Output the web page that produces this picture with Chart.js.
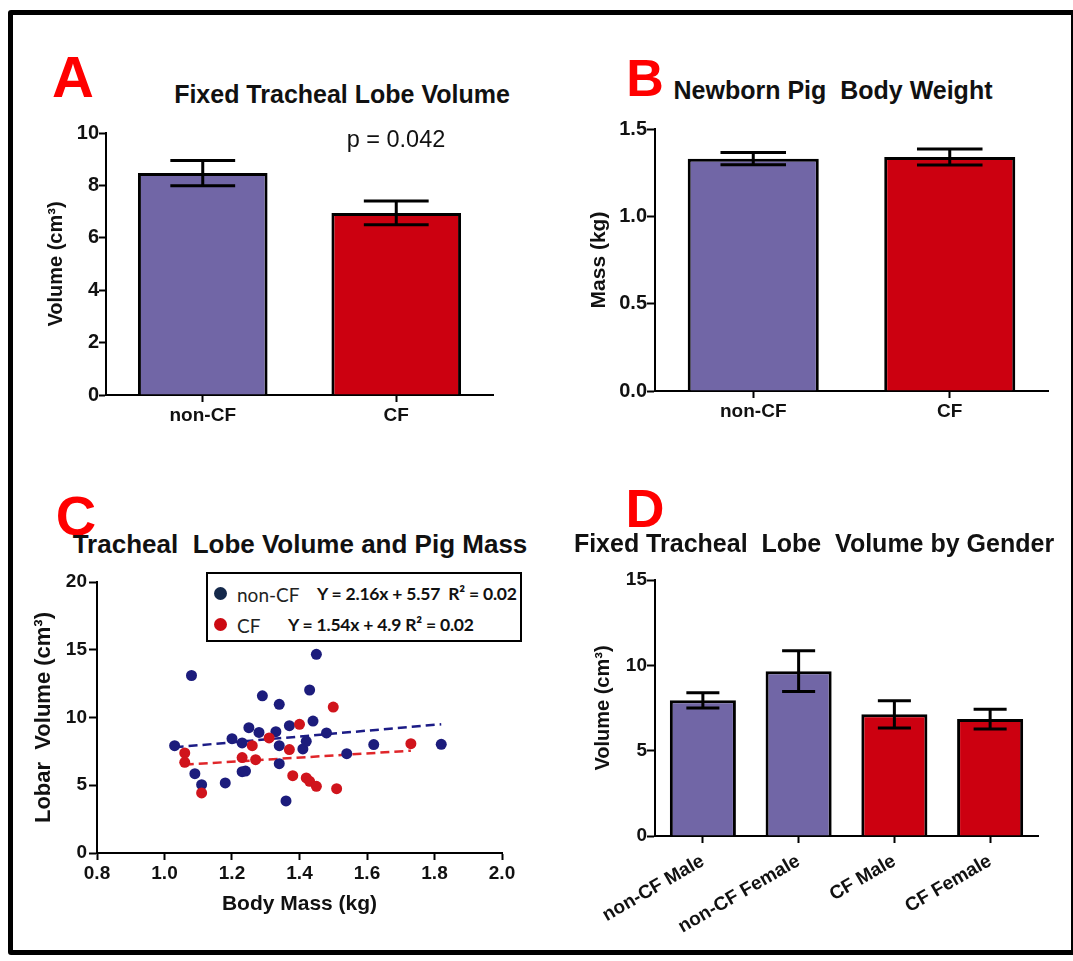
<!DOCTYPE html>
<html>
<head>
<meta charset="utf-8">
<script src="https://cdn.jsdelivr.net/npm/chart.js@4.4.1/dist/chart.umd.min.js"></script>
<style>
  body { margin: 0; background: #fff; font-family: 'Liberation Sans', Arial, sans-serif; }
  #fig { position: relative; width: 1073px; height: 961px; overflow: hidden; }
  #frame { position: absolute; left: 8px; top: 10px; width: 1068px; height: 945px; box-sizing: border-box; border: 5px solid #000; border-radius: 3px; }
  canvas { position: absolute; }
  .t { position: absolute; white-space: pre; line-height: 1; transform: translate(-50%, -50%); color: #111; }
  .letter { color: #ff0000; font-weight: bold; }
  .ttl { font-weight: bold; }
  #legend { position: absolute; left: 206px; top: 572px; width: 316px; height: 70px; box-sizing: border-box; border: 2px solid #000; background: #fff; font-family: Lato, 'Open Sans', sans-serif; }
  #legend .dot { position: absolute; width: 13px; height: 13px; border-radius: 50%; }
  #legend .name { position: absolute; font-size: 19px; color: #222; }
  #legend .eq { position: absolute; font-size: 17.5px; font-weight: bold; color: #111; letter-spacing: -0.2px; white-space: pre; }
</style>
</head>
<body>
<div id="fig">
  <div id="frame"></div>

  <canvas id="chartA" width="530" height="335" style="left:20px;top:115px"></canvas>
  <canvas id="chartB" width="510" height="335" style="left:560px;top:115px"></canvas>
  <canvas id="chartC" width="530" height="380" style="left:20px;top:560px"></canvas>
  <canvas id="chartD" width="510" height="395" style="left:560px;top:555px"></canvas>

  <div class="t letter" style="left:73px;top:77px;font-size:58px">A</div>
  <div class="t letter" style="left:645px;top:78px;font-size:52px">B</div>
  <div class="t letter" style="left:76px;top:516px;font-size:56px">C</div>
  <div class="t letter" style="left:645px;top:508px;font-size:54px">D</div>

  <div class="t ttl" style="left:342px;top:94px;font-size:25px">Fixed Tracheal Lobe Volume</div>
  <div class="t ttl" style="left:833px;top:90px;font-size:25px">Newborn Pig  Body Weight</div>
  <div class="t ttl" style="left:300px;top:544px;font-size:26px">Tracheal  Lobe Volume and Pig Mass</div>
  <div class="t ttl" style="left:814px;top:543px;font-size:25px">Fixed Tracheal  Lobe  Volume by Gender</div>

  <div class="t" style="left:396px;top:140px;font-size:23.5px">p = 0.042</div>

  <div id="legend">
    <div class="dot" style="left:6px;top:13px;background:#14284a"></div>
    <div class="name" style="left:29px;top:9px">non-CF</div>
    <div class="eq" style="left:109px;top:9px">Y = 2.16x + 5.57  R² = 0.02</div>
    <div class="dot" style="left:6px;top:44px;background:#cc0a12"></div>
    <div class="name" style="left:29px;top:40px">CF</div>
    <div class="eq" style="left:80px;top:40px">Y = 1.54x + 4.9 R² = 0.02</div>
  </div>
</div>

<script>
// panel A: fixed tracheal lobe volume
const groups = ['non-CF', 'CF'];
const lobeVolume = [8.47, 6.95];
const lobeVolumeSem = [0.48, 0.45];

// panel B: newborn body weight
const bodyMass = [1.33, 1.34];
const bodyMassSem = [0.035, 0.046];

// panel C: lobe volume vs body mass
const nonCFMass = [1.03, 1.08, 1.09, 1.11, 1.18, 1.20, 1.23, 1.23, 1.24, 1.25, 1.28, 1.29, 1.33, 1.34, 1.34, 1.34, 1.36, 1.37, 1.41, 1.42, 1.43, 1.44, 1.45, 1.48, 1.54, 1.62, 1.82];
const nonCFVol  = [7.92, 13.1, 5.85, 5.04, 5.17, 8.44, 8.12, 6.0, 6.05, 9.25, 8.9, 11.6, 8.95, 10.97, 7.92, 6.59, 3.84, 9.4, 7.68, 8.24, 12.03, 9.74, 14.66, 8.86, 7.33, 8.0, 8.02];
const cfMass = [1.06, 1.06, 1.11, 1.23, 1.26, 1.27, 1.31, 1.37, 1.38, 1.40, 1.42, 1.43, 1.45, 1.50, 1.51, 1.73];
const cfVol  = [7.38, 6.69, 4.43, 7.04, 7.92, 6.89, 8.49, 7.63, 5.71, 9.5, 5.54, 5.29, 4.92, 10.77, 4.75, 8.07];
// fitted lines, end points
const nonCFFitMass = [1.03, 1.82];
const nonCFFitVol  = [7.8, 9.5];
const cfFitMass = [1.06, 1.73];
const cfFitVol  = [6.52, 7.55];

// panel D: volume by gender
const genderGroups = ['non-CF Male', 'non-CF Female', 'CF Male', 'CF Female'];
const genderVolume = [7.95, 9.66, 7.13, 6.85];
const genderSem = [0.45, 1.2, 0.8, 0.58];

const purple = '#7166a6';
const red = '#cc0010';

Chart.defaults.font.family = "'Liberation Sans', Arial, sans-serif";
Chart.defaults.color = '#111';
Chart.defaults.animation = false;

// SEM bars on top of each bar
const errorBars = {
  id: 'errorBars',
  afterDatasetsDraw(chart, args, opts) {
    if (!opts.errors) return;
    const ctx = chart.ctx;
    const y = chart.scales.y;
    const values = chart.data.datasets[0].data;
    ctx.save();
    ctx.strokeStyle = '#000';
    ctx.lineWidth = 3;
    chart.getDatasetMeta(0).data.forEach((bar, i) => {
      const top = y.getPixelForValue(values[i] + opts.errors[i]);
      const bot = y.getPixelForValue(values[i] - opts.errors[i]);
      const half = bar.width / 4;
      ctx.beginPath();
      ctx.moveTo(bar.x, top); ctx.lineTo(bar.x, bot);
      ctx.moveTo(bar.x - half, top); ctx.lineTo(bar.x + half, top);
      ctx.moveTo(bar.x - half, bot); ctx.lineTo(bar.x + half, bot);
      ctx.stroke();
    });
    ctx.restore();
  }
};
Chart.register(errorBars);

function axisGrid(tickLength) {
  return { drawOnChartArea: false, drawTicks: true, tickLength: tickLength, tickWidth: 2, tickColor: '#000', offset: false };
}
const axisBorder = { display: true, color: '#000', width: 2 };

function barChart(id, cfg) {
  return new Chart(document.getElementById(id), {
    type: 'bar',
    data: {
      labels: cfg.labels,
      datasets: [{
        data: cfg.values,
        backgroundColor: cfg.colors,
        borderColor: '#000',
        borderWidth: 3,
        barPercentage: cfg.barPct,
        categoryPercentage: 1
      }]
    },
    options: {
      responsive: false,
      layout: { padding: cfg.padding },
      plugins: {
        legend: { display: false },
        tooltip: { enabled: false },
        errorBars: { errors: cfg.errors }
      },
      scales: {
        x: {
          grid: axisGrid(7),
          border: axisBorder,
          ticks: {
            font: { size: 19, weight: 'bold' },
            padding: cfg.xPad,
            minRotation: cfg.rotation || 0,
            maxRotation: cfg.rotation || 0
          },
          afterFit: s => { s.height = cfg.xHeight; }
        },
        y: {
          min: cfg.yMin, max: cfg.yMax,
          grid: axisGrid(cfg.yTick),
          border: axisBorder,
          ticks: {
            stepSize: cfg.step,
            font: { size: cfg.yFont, weight: 'bold' },
            padding: 0,
            callback: cfg.fmt
          },
          title: { display: true, text: cfg.yTitle, font: { size: cfg.yTitleSize, weight: 'bold' } },
          afterFit: s => { s.width = cfg.yWidth; }
        }
      }
    }
  });
}

barChart('chartA', {
  labels: groups, values: lobeVolume, errors: lobeVolumeSem, colors: [purple, red],
  barPct: 0.67, padding: { top: 18, right: 57, left: 20, bottom: 20 },
  xHeight: 35, xPad: 2, yWidth: 66, yTick: 7, yFont: 20, yMin: 0, yMax: 10, step: 2,
  fmt: v => v, yTitle: 'Volume (cm³)', yTitleSize: 20
});

barChart('chartB', {
  labels: groups, values: bodyMass, errors: bodyMassSem, colors: [purple, red],
  barPct: 0.667, padding: { top: 14, right: 22, left: 23, bottom: 20 },
  xHeight: 39, xPad: 2, yWidth: 72, yTick: 8, yFont: 20, yMin: 0, yMax: 1.5, step: 0.5,
  fmt: v => v.toFixed(1), yTitle: 'Mass (kg)', yTitleSize: 21
});

barChart('chartD', {
  labels: genderGroups, values: genderVolume, errors: genderSem, colors: [purple, purple, red, red],
  barPct: 0.69, padding: { top: 25, right: 32, left: 27, bottom: 0 },
  xHeight: 114, xPad: 7, yWidth: 68, yTick: 8, yFont: 19, yMin: 0, yMax: 15, step: 5, rotation: 30,
  fmt: v => v, yTitle: 'Volume (cm³)', yTitleSize: 20
});

const toPoints = (xs, ys) => xs.map((x, i) => ({ x: x, y: ys[i] }));

new Chart(document.getElementById('chartC'), {
  type: 'scatter',
  data: {
    datasets: [
      { data: toPoints(cfMass, cfVol), backgroundColor: '#d0141c', borderWidth: 0, pointRadius: 5.5 },
      { data: toPoints(nonCFMass, nonCFVol), backgroundColor: '#1c1c7c', borderWidth: 0, pointRadius: 5.5 },
      { data: toPoints(nonCFFitMass, nonCFFitVol), showLine: true, pointRadius: 0, borderColor: '#1c1c86', borderWidth: 2.5, borderDash: [9, 5] },
      { data: toPoints(cfFitMass, cfFitVol), showLine: true, pointRadius: 0, borderColor: '#e0262a', borderWidth: 2.5, borderDash: [9, 5] }
    ]
  },
  options: {
    responsive: false,
    layout: { padding: { top: 22, right: 48, left: 7, bottom: 19 } },
    plugins: { legend: { display: false }, tooltip: { enabled: false } },
    scales: {
      x: {
        type: 'linear', min: 0.8, max: 2.0,
        grid: axisGrid(7),
        border: axisBorder,
        ticks: { stepSize: 0.2, font: { size: 19, weight: 'bold' }, padding: 2, callback: v => v.toFixed(1) },
        title: { display: true, text: 'Body Mass (kg)', font: { size: 21, weight: 'bold' } },
        afterFit: s => { s.height = 68; }
      },
      y: {
        min: 0, max: 20,
        grid: axisGrid(8),
        border: axisBorder,
        ticks: { stepSize: 5, font: { size: 19, weight: 'bold' }, padding: 2 },
        title: { display: true, text: 'Lobar  Volume (cm³)', font: { size: 22, weight: 'bold' } },
        afterFit: s => { s.width = 70; }
      }
    }
  }
});
</script>
</body>
</html>
